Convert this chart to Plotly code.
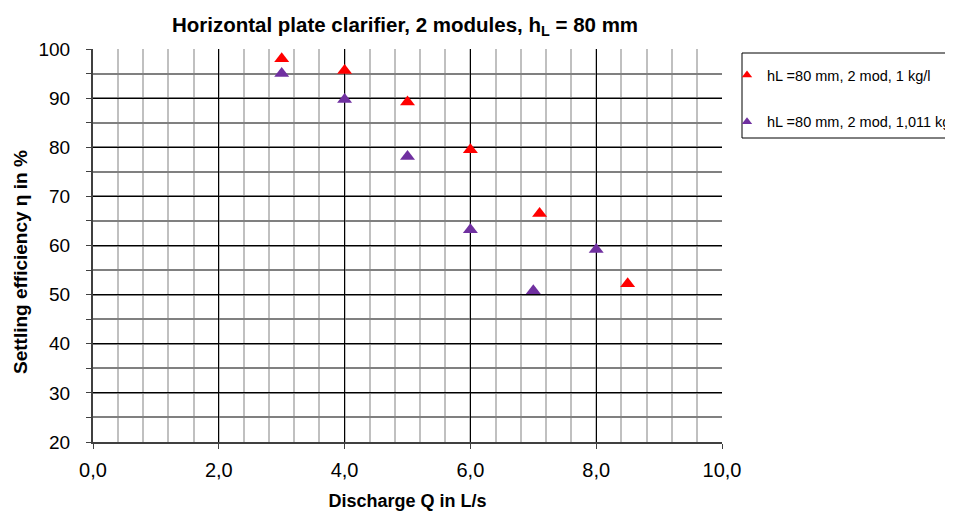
import plotly.graph_objects as go

# Data
q_red = [3.0, 4.0, 5.0, 6.0, 7.1, 8.5]
eta_red = [98.0, 95.6, 89.2, 79.5, 66.5, 52.2]
q_purple = [3.0, 4.0, 5.0, 6.0, 7.0, 8.0]
eta_purple = [95.0, 89.7, 78.1, 63.2, 50.8, 59.2]
name_red = "hL =80 mm, 2 mod, 1 kg/l"
name_purple = "hL =80 mm, 2 mod, 1,011 kg/l"
x_ticks = [0, 2, 4, 6, 8, 10]
y_ticks = [20, 30, 40, 50, 60, 70, 80, 90, 100]

RED = "#FF0000"
PURPLE = "#7030A0"
FONT = "Liberation Sans, Arial, sans-serif"

W, H = 945, 506
L, T, PW, PH = 85, 41, 629, 393

fig = go.Figure()
fig.add_trace(go.Scatter(x=q_red, y=eta_red, mode="markers", name=name_red,
                         showlegend=False,
                         marker=dict(symbol="triangle-up", size=13, color=RED)))
fig.add_trace(go.Scatter(x=q_purple, y=eta_purple, mode="markers", name=name_purple,
                         showlegend=False,
                         marker=dict(symbol="triangle-up", size=13, color=PURPLE)))
# legend entries (smaller legend symbols)
fig.add_trace(go.Scatter(x=[None], y=[None], mode="markers", name=name_red,
                         legendgroup="a",
                         marker=dict(symbol="triangle-up", size=9, color=RED)))
fig.add_trace(go.Scatter(x=[None], y=[None], mode="markers", name=name_purple,
                         legendgroup="b",
                         marker=dict(symbol="triangle-up", size=9, color=PURPLE)))

# legend frame
fig.add_shape(type="rect", xref="paper", yref="paper",
              x0=(742 - 93) / PW, x1=1.6, y0=(442 - 138) / PH, y1=(442 - 53) / PH,
              line=dict(color="black", width=1), fillcolor="rgba(0,0,0,0)")

# y axis title as annotation (placed like the reference)
fig.add_annotation(text="<b>Settling efficiency η in %</b>", textangle=-90,
                   xref="paper", yref="paper", x=(20 - 93) / PW, y=(442 - 262) / PH,
                   xanchor="center", yanchor="middle", showarrow=False,
                   font=dict(size=19))

fig.update_layout(
    width=W, height=H,
    margin=dict(l=L, r=W - L - PW, t=T, b=H - T - PH),
    paper_bgcolor="white", plot_bgcolor="white",
    separators=", ",
    font=dict(family=FONT, color="black"),
    title=dict(text="<b>Horizontal plate clarifier, 2 modules, h<sub>L</sub> = 80 mm</b>",
               x=397 / W, xanchor="center", y=1 - 17 / H, yanchor="middle",
               font=dict(size=20.5)),
    showlegend=True,
    legend=dict(xref="container", yref="container",
                x=719 / W, xanchor="left", y=1 - 51 / H, yanchor="top",
                borderwidth=0, bgcolor="rgba(0,0,0,0)",
                font=dict(size=14.5), tracegroupgap=25, itemsizing="trace",
                itemwidth=30),
    xaxis=dict(range=[0, 10], tickvals=x_ticks, tickformat=".1f",
               showgrid=True, gridcolor="black", gridwidth=1,
               minor=dict(dtick=0.4, tick0=0, showgrid=True, gridcolor="#c0c0c0", gridwidth=1.5,
                          ticks=""),
               showline=True, linecolor="#404040", linewidth=2,
               ticks="outside", ticklen=5, tickcolor="#404040",
               ticklabelstandoff=4, automargin=False,
               zeroline=False, tickfont=dict(size=20),
               title=dict(text="<b>Discharge Q in L/s</b>", font=dict(size=18), standoff=14)),
    yaxis=dict(range=[20, 100], tickvals=y_ticks,
               showgrid=True, gridcolor="black", gridwidth=1,
               minor=dict(dtick=5, tick0=0, showgrid=True, gridcolor="#808080", gridwidth=1.5,
                          ticks="outside", ticklen=5, tickcolor="#404040"),
               showline=True, linecolor="#404040", linewidth=2,
               ticks="outside", ticklen=5, tickcolor="#404040",
               ticklabelstandoff=12, automargin=False,
               zeroline=False, tickfont=dict(size=19)),
)

fig.write_html("out.html")
